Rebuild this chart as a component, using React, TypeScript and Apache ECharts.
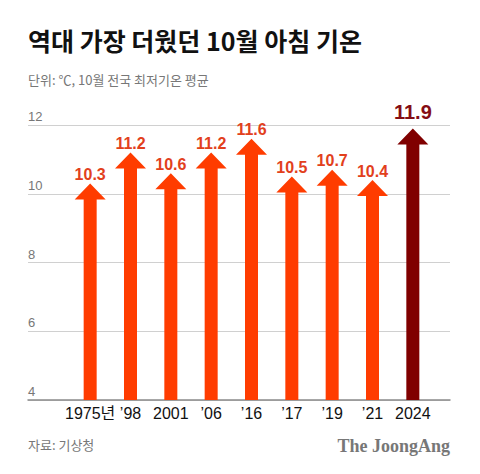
import React, { useEffect, useRef } from "react";
import * as echarts from "echarts";

const categories = ["1975년", "’98", "2001", "’06", "’16", "’17", "’19", "’21", "2024"];
const values = [10.3, 11.2, 10.6, 11.2, 11.6, 10.5, 10.7, 10.4, 11.9];
const yTicks = { min: 4, max: 12, interval: 2 };

const TITLE = "역대 가장 더웠던 10월 아침 기온";
const SUBTITLE = "단위: ℃, 10월 전국 최저기온 평균";
const SOURCE = "자료: 기상청";
const BRAND = "The JoongAng";

const SANS = "'Liberation Sans', 'Noto Sans CJK KR', sans-serif";
const KR = "'Noto Sans CJK KR', 'Liberation Sans', sans-serif";

export default function App() {
  const ref = useRef<HTMLDivElement>(null);
  useEffect(() => {
    document.body.style.margin = "0";
    if (!ref.current) return;
    const chart = echarts.init(ref.current, null, { renderer: "svg" });
    const lastIdx = categories.length - 1;
    const option: any = {
      animation: false,
      backgroundColor: "#ffffff",
      grid: [
        { left: 28, right: 30, top: 125, bottom: 74 },
        { left: 70, right: 47, top: 125, bottom: 74 },
      ],
      xAxis: [
        {
          gridIndex: 0,
          type: "value",
          min: 0,
          max: 1,
          axisLine: { show: true, lineStyle: { color: "#8a8a8a", width: 1.5 } },
          axisTick: { show: false },
          axisLabel: { show: false },
          splitLine: { show: false },
        },
        {
          gridIndex: 1,
          type: "category",
          data: categories,
          axisLine: { show: false },
          axisTick: { show: false },
          axisLabel: {
            show: true,
            color: "#111",
            fontSize: 16,
            fontFamily: SANS,
            margin: 5,
            interval: 0,
          },
          splitLine: { show: false },
        },
      ],
      yAxis: [
        {
          gridIndex: 0,
          type: "value",
          min: yTicks.min,
          max: yTicks.max,
          interval: yTicks.interval,
          axisLine: { show: false },
          axisTick: { show: false },
          axisLabel: {
            inside: true,
            margin: 0,
            color: "#777",
            fontSize: 13,
            fontFamily: SANS,
            verticalAlign: "bottom",
            padding: [0, 0, 2, 0],
          },
          splitLine: { show: true, lineStyle: { color: "#d0d0d0", width: 1 } },
        },
        {
          gridIndex: 1,
          type: "value",
          min: yTicks.min,
          max: yTicks.max,
          interval: yTicks.interval,
          show: false,
        },
      ],
      series: [
        {
          type: "custom",
          xAxisIndex: 1,
          yAxisIndex: 1,
          encode: { x: 0, y: 1 },
          data: values.map((v, i) => [i, v]),
          renderItem: (params: any, api: any) => {
            const idx = api.value(0);
            const val = api.value(1);
            const tip = api.coord([idx, val]);
            const base = api.coord([idx, yTicks.min]);
            const cx = tip[0];
            const ty = tip[1];
            const by = base[1];
            const highlight = idx === lastIdx;
            const fill = highlight ? "#800000" : "#ff3c00";
            const labelColor = highlight ? "#850d14" : "#e2401c";
            const shaft = 6.5;
            const head = 15.5;
            const headH = 16;
            return {
              type: "group",
              children: [
                {
                  type: "polygon",
                  shape: {
                    points: [
                      [cx - shaft, by],
                      [cx - shaft, ty + headH],
                      [cx - head, ty + headH],
                      [cx, ty],
                      [cx + head, ty + headH],
                      [cx + shaft, ty + headH],
                      [cx + shaft, by],
                    ],
                  },
                  style: { fill },
                },
                {
                  type: "text",
                  x: cx,
                  y: highlight ? ty - 16 : ty - 9,
                  style: {
                    text: val.toFixed(1),
                    fill: labelColor,
                    font: `bold ${highlight ? 20 : 16}px ${SANS}`,
                    align: "center",
                    verticalAlign: "middle",
                  },
                },
              ],
            };
          },
        },
      ],
      graphic: [
        {
          type: "text",
          left: 28,
          top: 27,
          style: {
            text: TITLE,
            fill: "#111",
            font: `bold 25px ${KR}`,
          },
        },
        {
          type: "text",
          left: 28,
          top: 73,
          style: {
            text: SUBTITLE,
            fill: "#777",
            font: `13px ${KR}`,
          },
        },
        {
          type: "text",
          left: 28,
          top: 438,
          style: {
            text: SOURCE,
            fill: "#777",
            font: `13px ${KR}`,
          },
        },
        {
          type: "text",
          right: 30,
          top: 437,
          style: {
            text: BRAND,
            fill: "#777",
            font: `bold 18px 'Liberation Serif', 'DejaVu Serif', serif`,
          },
        },
      ],
    };
    chart.setOption(option);
    return () => chart.dispose();
  }, []);
  return <div ref={ref} style={{ width: 480, height: 474 }} />;
}
